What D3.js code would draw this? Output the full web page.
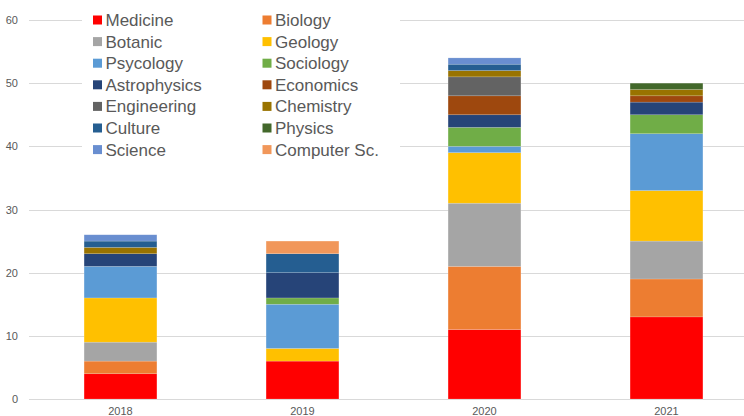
<!DOCTYPE html>
<html><head><meta charset="utf-8">
<script src="https://cdn.jsdelivr.net/npm/d3@7"></script>
<style>body{margin:0;background:#fff;}svg{display:block;font-family:"Liberation Sans",Arial,sans-serif;}</style>
</head><body><svg id="c" width="744" height="416"></svg>
<script>
const years = ["2018","2019","2020","2021"];
const fields = ["Medicine","Biology","Botanic","Geology","Psycology","Sociology","Astrophysics","Economics","Engineering","Chemistry","Culture","Physics","Science","Computer Sc."];
const colors = ["#FF0000","#ED7D31","#A5A5A5","#FFC000","#5B9BD5","#70AD47","#264478","#9E480E","#636363","#997300","#255E91","#43682B","#698ED0","#F1975A"];
const medicine    = [4, 6, 11, 13];
const biology     = [2, 0, 10, 6];
const botanic     = [3, 0, 10, 6];
const geology     = [7, 2, 8, 8];
const psycology   = [5, 7, 1, 9];
const sociology   = [0, 1, 3, 3];
const astrophysics= [2, 4, 2, 2];
const economics   = [0, 0, 3, 1];
const engineering = [0, 0, 3, 0];
const chemistry   = [1, 0, 1, 1];
const culture     = [1, 3, 1, 0];
const physics     = [0, 0, 0, 1];
const science     = [1, 0, 1, 0];
const computerSc  = [0, 2, 0, 0];
const yTicks = [0,10,20,30,40,50,60];

const series = [medicine,biology,botanic,geology,psycology,sociology,astrophysics,economics,engineering,chemistry,culture,physics,science,computerSc];
const rows = years.map((y,i)=>{const r={year:y}; fields.forEach((f,j)=>r[f]=series[j][i]); return r;});
const stacked = d3.stack().keys(fields)(rows);

const svg = d3.select("#c");
const x = d3.scaleBand().domain(years).range([29.5,757.5]).paddingInner(0.6).paddingOuter(0.3);
const y = d3.scaleLinear().domain([0,60]).range([399,20]);

// gridlines
svg.append("g").selectAll("line").data(yTicks).join("line")
  .attr("x1",29).attr("x2",744).attr("y1",d=>Math.round(y(d))+0.5).attr("y2",d=>Math.round(y(d))+0.5)
  .attr("stroke","#d9d9d9").attr("stroke-width",1);

// y labels
svg.append("g").selectAll("text").data(yTicks).join("text")
  .attr("x",18).attr("y",d=>y(d)+4).attr("text-anchor","end")
  .attr("font-size",11).attr("fill","#595959").text(d=>d);

// bars
svg.append("g").selectAll("g").data(stacked).join("g")
  .attr("fill",(d,i)=>colors[i])
  .selectAll("rect").data(d=>d.filter(s=>s[1]-s[0]>0)).join("rect")
  .attr("x",d=>x(d.data.year)).attr("width",x.bandwidth())
  .attr("y",d=>y(d[1])).attr("height",d=>y(d[0])-y(d[1]))
  .attr("stroke","#fff").attr("stroke-opacity",0.25).attr("stroke-width",0.6);

// x labels
svg.append("g").selectAll("text").data(years).join("text")
  .attr("x",d=>x(d)+x.bandwidth()/2).attr("y",415).attr("text-anchor","middle")
  .attr("font-size",11).attr("fill","#595959").text(d=>d);

// legend
const lg = svg.append("g");
lg.append("rect").attr("x",82).attr("y",6).attr("width",318).attr("height",154).attr("fill","#fff");
fields.forEach((f,i)=>{
  const col = i%2, row = Math.floor(i/2);
  const lx = col===0 ? 93 : 262.5;
  const ly = 20 + row*21.6;
  lg.append("rect").attr("x",lx).attr("y",ly-4.5).attr("width",9).attr("height",9).attr("fill",colors[i]);
  lg.append("text").attr("x",lx+12.5).attr("y",ly+6).attr("font-size",17).attr("fill","#595959").text(f);
});
</script></body></html>
